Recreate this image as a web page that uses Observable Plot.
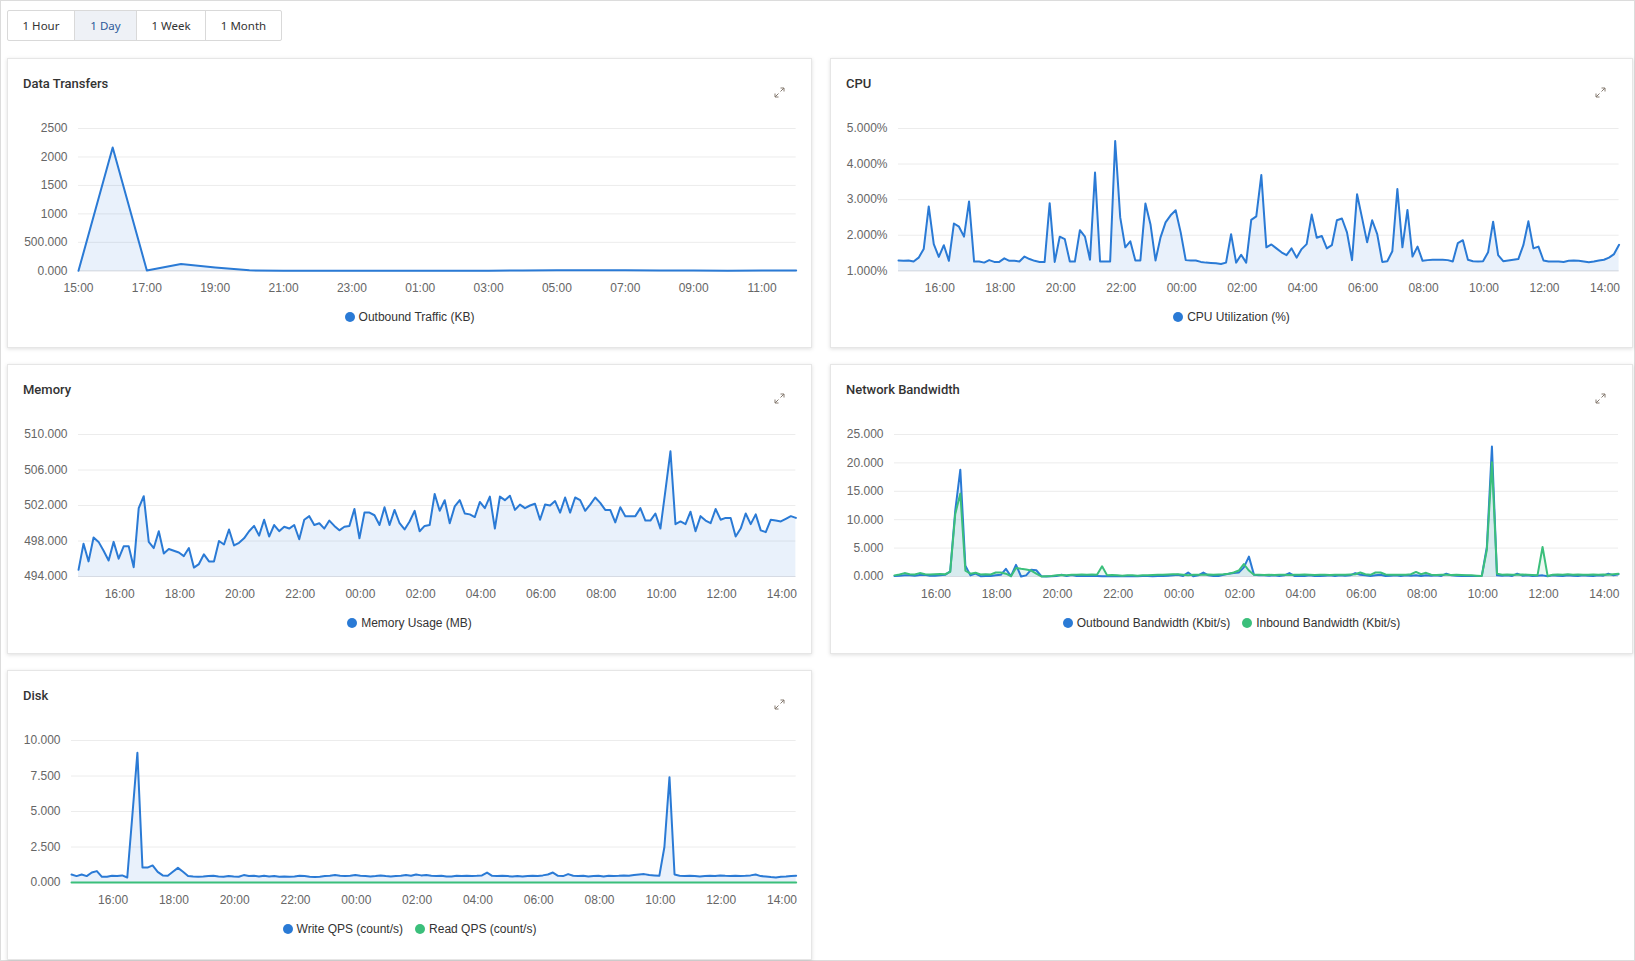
<!DOCTYPE html>
<html>
<head>
<meta charset="utf-8">
<script src="https://cdn.jsdelivr.net/npm/d3@7"></script>
<script src="https://cdn.jsdelivr.net/npm/@observablehq/plot@0.6"></script>
<style>
  html, body { margin: 0; padding: 0; background: #fff; }
  body { width: 1635px; height: 961px; position: relative; overflow: hidden;
         font-family: "Liberation Sans", Arial, sans-serif; color: #333; }
  .frame { position: absolute; left: 0; top: 0; width: 1633px; height: 959px; border: 1px solid #dcdcdc; }
  .tabs { position: absolute; left: 7px; top: 10px; height: 31px; display: flex;
          border: 1px solid #d9d9d9; border-radius: 2px; box-sizing: border-box; background: #fff; }
  .tab { height: 29px; line-height: 29px; text-align: center; font-family: "Noto Sans", sans-serif;
         font-size: 11.5px; color: #333; border-left: 1px solid #d9d9d9; box-sizing: border-box; }
  .tab:first-child { border-left: none; }
  .tab.on { background: #eef1f6; color: #2d5a9a; }
  .panel { position: absolute; background: #fff; border: 1px solid #e6e6e6; box-sizing: border-box;
           box-shadow: 0 1px 4px rgba(0,0,0,0.13); }
  .title { position: absolute; left: 15px; top: 17px; font-family: Roboto, sans-serif; font-weight: 500;
           font-size: 13px; color: #333; }
  .expand { position: absolute; right: 26px; top: 28px; width: 11px; height: 11px; }
  .legend { position: absolute; left: 0; right: 0; top: 250px; height: 16px; display: flex;
            justify-content: center; align-items: center; font-size: 12px; color: #333; }
  .legend .item { display: flex; align-items: center; margin: 0 6px; }
  .legend .dot { width: 10px; height: 10px; border-radius: 50%; margin-right: 4px; }
  .chart { position: absolute; }
</style>
</head>
<body>
<div class="frame"></div>
<div class="tabs">
  <div class="tab" style="width:66px">1 Hour</div>
  <div class="tab on" style="width:62px">1 Day</div>
  <div class="tab" style="width:69px">1 Week</div>
  <div class="tab" style="width:76px">1 Month</div>
</div>
<div id="root"></div>
<script>
// ---- series data ----
// hourly outbound traffic, 15:00 -> 12:00 next day
const transferKB = [0, 2166, 5, 118, 60, 8, 3, 2, 2, 2, 2, 2, 3, 4, 8, 9, 8, 5, 4, 3, 4, 6];

// 10-minute samples, 14:38 -> 14:28 next day
const cpuUtil = [
  1.29,1.28,1.29,1.26,1.37,1.61,2.81,1.75,1.39,1.72,
  1.28,2.33,2.24,1.96,2.95,1.26,1.26,1.23,1.30,1.25,
  1.25,1.35,1.28,1.28,1.26,1.40,1.33,1.28,1.25,1.25,
  2.90,1.25,1.96,1.89,1.26,1.26,2.14,1.96,1.31,3.76,
  1.26,1.26,1.26,4.65,2.50,1.66,1.83,1.29,1.29,2.89,
  2.31,1.29,1.94,2.36,2.56,2.70,2.08,1.30,1.29,1.29,
  1.25,1.23,1.22,1.21,1.19,1.23,2.03,1.23,1.45,1.23,
  2.43,2.53,3.69,1.66,1.74,1.63,1.52,1.44,1.63,1.37,
  1.61,1.75,2.58,1.93,1.98,1.63,1.72,2.42,2.47,2.08,
  1.30,3.15,2.48,1.80,2.42,2.03,1.25,1.27,1.55,3.30,
  1.66,2.71,1.40,1.68,1.28,1.30,1.31,1.31,1.31,1.30,
  1.26,1.78,1.86,1.31,1.27,1.26,1.27,1.52,2.38,1.44,
  1.27,1.29,1.31,1.33,1.72,2.39,1.63,1.68,1.29,1.26,
  1.26,1.26,1.25,1.28,1.29,1.28,1.26,1.24,1.26,1.29,
  1.31,1.37,1.47,1.73
];

const memUsage = [
  494.75,497.7,495.7,498.4,497.9,496.9,495.8,497.9,496.0,497.4,
  497.4,495.05,501.7,503.05,497.9,497.2,499.1,496.6,497.1,496.9,
  496.7,496.3,497.2,495.0,495.4,496.5,495.7,495.7,498.0,497.6,
  499.3,497.5,497.8,498.3,499.1,499.7,498.6,500.4,498.5,499.8,
  499.1,499.6,499.4,499.8,498.2,500.4,500.8,499.8,500.0,499.4,
  500.3,499.7,499.2,499.6,499.7,501.6,498.3,501.2,501.2,500.9,
  499.8,501.8,499.8,501.5,500.0,499.3,500.2,501.4,499.1,499.7,
  499.8,503.3,501.4,502.6,500.0,501.9,502.6,501.1,501.0,500.7,
  502.4,501.7,503.0,499.4,503.0,502.6,503.1,501.5,502.1,501.7,
  502.0,502.2,500.4,502.1,502.0,502.5,501.2,502.9,501.2,502.9,
  502.6,501.4,502.1,502.9,502.3,501.5,501.5,500.1,501.8,500.8,
  500.8,500.8,501.7,500.3,500.3,501.1,499.4,503.7,508.1,499.9,
  500.2,499.9,501.3,499.1,500.8,500.3,500.0,501.6,500.4,500.6,
  500.6,498.5,499.4,501.1,499.9,501.0,499.2,499.0,500.4,500.3,
  500.2,500.5,500.8,500.6
];

const netOut = [
  0.1,0.15,0.2,0.2,0.15,0.25,0.3,0.15,0.15,0.2,
  0.3,0.9,11.6,18.8,1.9,0.2,0.5,0.05,0.1,0.1,
  0.2,0.3,1.35,0.05,2.05,0.0,0.2,1.2,1.1,0.05,
  0.0,0.05,0.1,0.3,0.1,0.25,0.1,0.1,0.15,0.1,
  0.1,0.05,0.05,0.1,0.05,0.05,0.05,0.1,0.05,0.1,
  0.1,0.05,0.1,0.1,0.15,0.2,0.3,0.1,0.7,0.05,
  0.2,0.7,0.2,0.1,0.1,0.3,0.5,0.6,0.7,1.6,
  3.5,0.3,0.2,0.2,0.15,0.2,0.1,0.2,0.6,0.1,
  0.15,0.1,0.2,0.1,0.1,0.15,0.2,0.1,0.2,0.15,
  0.2,0.6,0.3,0.2,0.1,0.2,0.3,0.1,0.15,0.2,
  0.1,0.2,0.15,0.2,0.1,0.2,0.15,0.2,0.1,0.5,
  0.2,0.15,0.1,0.15,0.1,0.1,0.1,5.2,22.9,0.2,
  0.15,0.2,0.1,0.5,0.15,0.2,0.1,0.15,0.2,0.05,
  0.2,0.15,0.1,0.2,0.15,0.1,0.2,0.15,0.1,0.2,
  0.15,0.5,0.2,0.4
];

const netIn = [
  0.2,0.35,0.6,0.4,0.35,0.6,0.4,0.35,0.4,0.45,
  0.4,0.8,11.0,14.6,1.05,0.5,0.65,0.35,0.4,0.35,
  0.7,0.7,0.5,0.05,1.5,1.35,1.25,1.05,0.5,0.0,
  0.05,0.1,0.2,0.25,0.2,0.3,0.3,0.35,0.3,0.35,
  0.3,1.8,0.2,0.25,0.2,0.15,0.2,0.2,0.15,0.2,
  0.2,0.25,0.3,0.3,0.35,0.4,0.4,0.3,0.2,0.3,
  0.3,0.3,0.35,0.3,0.35,0.4,0.5,0.7,1.05,2.2,
  1.05,0.3,0.3,0.25,0.3,0.25,0.3,0.3,0.25,0.3,
  0.3,0.35,0.3,0.25,0.3,0.3,0.25,0.3,0.3,0.3,
  0.35,0.4,0.7,0.4,0.3,0.7,0.7,0.35,0.3,0.3,
  0.3,0.3,0.4,0.8,0.4,0.65,0.3,0.25,0.3,0.3,
  0.25,0.3,0.25,0.2,0.2,0.15,0.1,4.7,20.1,0.5,
  0.3,0.35,0.3,0.3,0.35,0.3,0.25,0.2,5.2,0.1,
  0.3,0.35,0.3,0.4,0.3,0.35,0.3,0.3,0.35,0.3,
  0.35,0.3,0.4,0.5
];

const diskWrite = [
  0.56,0.45,0.56,0.45,0.70,0.80,0.40,0.40,0.47,0.45,
  0.50,0.35,4.70,9.13,1.05,1.05,1.20,0.75,0.50,0.47,
  0.75,1.03,0.75,0.45,0.42,0.40,0.42,0.45,0.47,0.42,
  0.40,0.45,0.42,0.40,0.52,0.45,0.47,0.42,0.47,0.42,
  0.45,0.40,0.42,0.40,0.42,0.47,0.45,0.40,0.38,0.40,
  0.45,0.47,0.52,0.47,0.45,0.47,0.52,0.47,0.45,0.42,
  0.45,0.50,0.45,0.42,0.45,0.47,0.52,0.47,0.56,0.50,
  0.52,0.47,0.45,0.47,0.42,0.42,0.47,0.45,0.47,0.45,
  0.47,0.50,0.70,0.47,0.45,0.47,0.45,0.42,0.45,0.42,
  0.45,0.47,0.45,0.50,0.56,0.70,0.47,0.45,0.59,0.47,
  0.45,0.47,0.42,0.45,0.47,0.42,0.47,0.45,0.47,0.50,
  0.47,0.52,0.56,0.59,0.52,0.50,0.47,2.50,7.42,0.56,
  0.47,0.45,0.47,0.45,0.42,0.45,0.47,0.45,0.50,0.47,
  0.45,0.47,0.45,0.47,0.50,0.56,0.45,0.42,0.38,0.35,
  0.40,0.42,0.45,0.47
];

const diskRead = [
  0,0,0,0,0,0,0,0,0,0, 0,0,0,0,0,0,0,0,0,0, 0,0,0,0,0,0,0,0,0,0,
  0,0,0,0,0,0,0,0,0,0, 0,0,0,0,0,0,0,0,0,0, 0,0,0,0,0,0,0,0,0,0,
  0,0,0,0,0,0,0,0,0,0, 0,0,0,0,0,0,0,0,0,0, 0,0,0,0,0,0,0,0,0,0,
  0,0,0,0,0,0,0,0,0,0, 0,0,0,0,0,0,0,0,0,0, 0,0,0,0,0,0,0,0,0,0,
  0,0,0,0,0,0,0,0,0,0, 0,0,0,0,0,0,0,0,0,0, 0,0,0,0
];

// ---- axis ticks ----
const transferTicks = ["15:00","17:00","19:00","21:00","23:00","01:00","03:00","05:00","07:00","09:00","11:00"];
const dayTicks = ["16:00","18:00","20:00","22:00","00:00","02:00","04:00","06:00","08:00","10:00","12:00","14:00"];

const transferY = [0, 500, 1000, 1500, 2000, 2500];
const transferYLabels = ["0.000", "500.000", "1000", "1500", "2000", "2500"];
const cpuY = [1, 2, 3, 4, 5];
const cpuYLabels = ["1.000%", "2.000%", "3.000%", "4.000%", "5.000%"];
const memY = [494, 498, 502, 506, 510];
const memYLabels = ["494.000", "498.000", "502.000", "506.000", "510.000"];
const netY = [0, 5, 10, 15, 20, 25];
const netYLabels = ["0.000", "5.000", "10.000", "15.000", "20.000", "25.000"];
const diskY = [0, 2.5, 5, 7.5, 10];
const diskYLabels = ["0.000", "2.500", "5.000", "7.500", "10.000"];

// ---- time helpers ----
const DAY0 = Date.UTC(2024, 4, 20);
const HOUR = 3600e3;
const start10 = DAY0 + 14 * HOUR + 38 * 60e3;          // first 10-minute sample
const startHourly = DAY0 + 15 * HOUR;                   // first hourly sample
const rows10 = vals => vals.map((v, i) => ({t: new Date(start10 + i * 600e3), v}));
const rowsHourly = vals => vals.map((v, i) => ({t: new Date(startHourly + i * HOUR), v}));
// "hh:mm" -> date on the first day, or the next one if before the window starts
function tickDate(label, cutoffMinutes) {
  const [h, m] = label.split(":").map(Number);
  const mins = h * 60 + m;
  return new Date(DAY0 + (mins < cutoffMinutes ? 24 * 60 + mins : mins) * 60e3);
}

const BLUE = "#2a7ad5";
const GREEN = "#3bbf7b";
const fmtHM = d3.utcFormat("%H:%M");

// ---- panels ----
const root = document.getElementById("root");
function panel(left, top, width, height, title, legendItems) {
  const p = document.createElement("div");
  p.className = "panel";
  Object.assign(p.style, {left: left + "px", top: top + "px", width: width + "px", height: height + "px"});
  p.innerHTML = `<div class="title">${title}</div>
    <svg class="expand" viewBox="0 0 11 11"><g fill="none" stroke="#857a70" stroke-width="1">
      <path d="M1 6.5V10H4.5M1 10L4.5 6.5"/><path d="M6.5 1H10V4.5M10 1L6.5 4.5"/></g></svg>
    <div class="legend">${legendItems.map(([c, t]) =>
      `<span class="item"><span class="dot" style="background:${c}"></span>${t}</span>`).join("")}</div>`;
  root.appendChild(p);
}

// plot frame in page pixels: [left, right, top, bottom]
function chart(frame, {xDomain, xTicks, yDomain, yTicks, yLabels, series}) {
  const [x0, x1, y0, y1] = frame;
  const mL = 75, mR = 12, mT = 10, mB = 34;
  const labelOf = new Map(yTicks.map((d, i) => [d, yLabels[i]]));
  const base = yDomain[0];
  const svg = Plot.plot({
    width: x1 - x0 + mL + mR,
    height: y1 - y0 + mT + mB,
    marginLeft: mL, marginRight: mR, marginTop: mT, marginBottom: mB,
    style: {fontFamily: "'Liberation Sans', Arial, sans-serif", fontSize: "12px", color: "#666", background: "transparent", overflow: "visible"},
    x: {type: "utc", domain: xDomain},
    y: {domain: yDomain},
    marks: [
      Plot.ruleY(yTicks, {stroke: "#ececec", strokeWidth: 1}),
      Plot.ruleY([base], {stroke: "#d6dbe4", strokeWidth: 1}),
      ...series.map(s => Plot.areaY(s.rows, {x: "t", y1: base, y2: "v", fill: s.color, fillOpacity: 0.1})),
      ...series.map(s => Plot.lineY(s.rows, {x: "t", y: "v", stroke: s.color, strokeWidth: 2})),
      Plot.axisX(xTicks, {tickSize: 0, tickPadding: 13, tickFormat: fmtHM, label: null}),
      Plot.axisY(yTicks, {tickSize: 0, tickPadding: 11, tickFormat: d => labelOf.get(d), label: null})
    ]
  });
  const box = document.createElement("div");
  box.className = "chart";
  Object.assign(box.style, {left: (x0 - mL) + "px", top: (y0 - mT) + "px"});
  box.appendChild(svg);
  root.appendChild(box);
}

const day10Domain = [new Date(start10), new Date(start10 + (cpuUtil.length - 1) * 600e3)];
const dayTickDates = dayTicks.map(l => tickDate(l, 14 * 60 + 38));

// Data Transfers
panel(7, 58, 805, 290, "Data Transfers", [[BLUE, "Outbound Traffic (KB)"]]);
chart([78, 795.7, 127.7, 270], {
  xDomain: [new Date(startHourly), new Date(startHourly + (transferKB.length - 1) * HOUR)],
  xTicks: transferTicks.map(l => tickDate(l, 15 * 60)),
  yDomain: [0, 2500], yTicks: transferY, yLabels: transferYLabels,
  series: [{rows: rowsHourly(transferKB), color: BLUE}]
});

// CPU
panel(830, 58, 803, 290, "CPU", [[BLUE, "CPU Utilization (%)"]]);
chart([897.7, 1618.3, 127.7, 270], {
  xDomain: day10Domain, xTicks: dayTickDates,
  yDomain: [1, 5], yTicks: cpuY, yLabels: cpuYLabels,
  series: [{rows: rows10(cpuUtil), color: BLUE}]
});

// Memory
panel(7, 364, 805, 290, "Memory", [[BLUE, "Memory Usage (MB)"]]);
chart([78.3, 795.7, 434, 576], {
  xDomain: day10Domain, xTicks: dayTickDates,
  yDomain: [494, 510], yTicks: memY, yLabels: memYLabels,
  series: [{rows: rows10(memUsage), color: BLUE}]
});

// Network Bandwidth
panel(830, 364, 803, 290, "Network Bandwidth", [[BLUE, "Outbound Bandwidth (Kbit/s)"], [GREEN, "Inbound Bandwidth (Kbit/s)"]]);
chart([894, 1618, 434, 576], {
  xDomain: day10Domain, xTicks: dayTickDates,
  yDomain: [0, 25], yTicks: netY, yLabels: netYLabels,
  series: [{rows: rows10(netOut), color: BLUE}, {rows: rows10(netIn), color: GREEN}]
});

// Disk
panel(7, 670, 805, 290, "Disk", [[BLUE, "Write QPS (count/s)"], [GREEN, "Read QPS (count/s)"]]);
chart([71, 795.7, 740, 882], {
  xDomain: day10Domain, xTicks: dayTickDates,
  yDomain: [0, 10], yTicks: diskY, yLabels: diskYLabels,
  series: [{rows: rows10(diskWrite), color: BLUE}, {rows: rows10(diskRead), color: GREEN}]
});
</script>
</body>
</html>
